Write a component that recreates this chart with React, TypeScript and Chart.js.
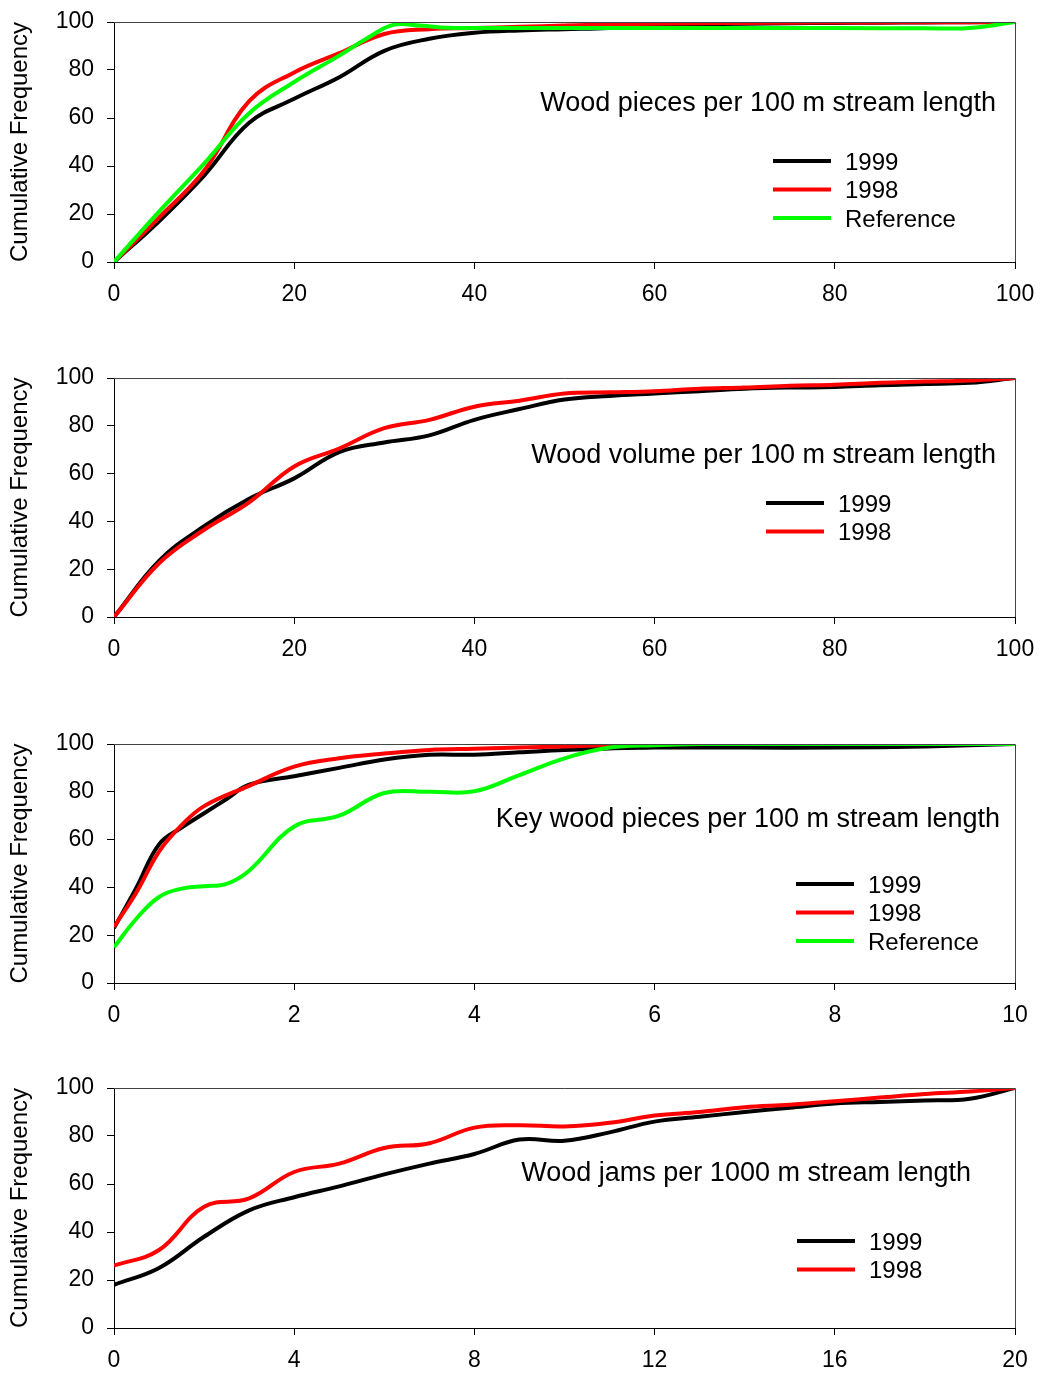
import React, { useEffect, useRef } from 'react';
import { Chart, registerables } from 'chart.js';
Chart.register(...registerables);

// ---------- data ----------
const yTickValues = [0, 20, 40, 60, 80, 100];
const legendLabels = ['1999', '1998', 'Reference'];

// Panel 1: Wood pieces per 100 m stream length
const p1X = [0, 5, 10, 15, 20, 25, 30, 35, 40, 45, 50, 55, 60, 65, 70, 75, 80, 85, 90, 95, 100];
const p1Y1999 = [0, 17, 36, 58, 68, 77, 88, 93, 95.5, 96.5, 97, 97.5, 98.5, 99, 99.3, 99.5, 99.6, 99.7, 99.8, 99.9, 100];
const p1Y1998 = [0, 18.5, 38, 67, 79, 87, 95, 97, 97.5, 98, 98.5, 99, 99.3, 99.5, 99.6, 99.7, 99.8, 99.8, 99.9, 99.9, 100];
const p1RefX = [0, 5, 10, 15, 20, 25, 28, 31, 34, 37, 40, 50, 60, 70, 80, 90, 95, 100];
const p1RefY = [0, 21, 41, 62, 75, 86, 93, 98.8, 98.5, 97.6, 97.5, 97.5, 97.5, 97.5, 97.5, 97.4, 97.5, 100];

// Panel 2: Wood volume per 100 m stream length
const p2X = [0, 5, 10, 15, 20, 25, 30, 35, 40, 45, 50, 55, 60, 65, 70, 75, 80, 85, 90, 95, 100];
const p2Y1999 = [0, 23.5, 38, 49.5, 58, 69, 73, 76, 82.5, 87, 91, 92.5, 93.5, 94.5, 95.5, 96, 96.2, 97, 97.5, 98, 100];
const p2Y1998 = [0, 22.5, 36.5, 48, 63, 70.5, 79, 82.5, 88, 90.5, 93.5, 94, 94.5, 95.5, 96, 96.8, 97.2, 98, 98.5, 99, 100];

// Panel 3: Key wood pieces per 100 m stream length
const p3X1999 = [0, 0.25, 0.5, 0.75, 1, 1.25, 1.5, 2, 2.5, 3, 3.5, 4, 4.5, 5, 6, 7, 8, 9, 10];
const p3Y1999 = [23, 40, 58, 65, 71, 77, 83, 86.5, 90, 93.5, 95.5, 95.5, 96.5, 97.5, 98.5, 98.5, 98.5, 99, 100];
const p3X1998 = [0, 0.25, 0.5, 0.75, 1, 1.5, 2, 2.5, 3, 3.5, 4, 5, 6, 7, 8, 9, 10];
const p3Y1998 = [23.5, 38, 55, 66, 74, 82.5, 90.5, 94, 96, 97.5, 98, 99, 100, 100, 100, 100, 100];
const p3RefX = [0, 0.25, 0.5, 0.75, 1, 1.25, 1.5, 2, 2.5, 3, 3.5, 4, 4.5, 5, 5.5, 6, 6.5, 7, 8, 9, 10];
const p3RefY = [15, 27, 36, 39.5, 40.5, 41.5, 47, 65.5, 70, 79.5, 80, 80.2, 87, 94, 98.5, 99.5, 100, 100, 100, 100, 100];

// Panel 4: Wood jams per 1000 m stream length
const p4X = [0, 1, 2, 3, 4, 5, 6, 7, 8, 9, 10, 11, 12, 13, 14, 15, 16, 17, 18, 19, 20];
const p4Y1999 = [18, 25, 38, 49, 54.5, 59, 64, 68.5, 72.5, 78.5, 78, 81.5, 86, 88, 90, 91.8, 93.5, 94.2, 94.8, 95.5, 100];
const p4Y1998 = [26, 32.5, 50.5, 54, 65, 68.5, 75, 77, 83.5, 84.5, 84, 85.5, 88.5, 90, 92, 93, 94.5, 96, 97.5, 98.5, 100];

const titles = [
  'Wood pieces per 100 m stream length',
  'Wood volume per 100 m stream length',
  'Key wood pieces per 100 m stream length',
  'Wood jams per 1000 m stream length',
];

const COLORS = { y1999: '#000000', y1998: '#ff0000', ref: '#00ff00' };
const FONT = '"Liberation Sans", Arial, sans-serif';

const pts = (xs: number[], ys: number[]) => xs.map((x, i) => ({ x, y: ys[i] }));

type Series = { label: string; color: string; data: { x: number; y: number }[] };
type Panel = {
  top: number; height: number; plotTop: number; plotBottom: number;
  xMax: number; xStep: number; title: string; titleRight: number; titleBase: number;
  legendX: number; legendY: number; series: Series[];
};

const panels: Panel[] = [
  {
    top: 0, height: 330, plotTop: 22, plotBottom: 262, xMax: 100, xStep: 20,
    title: titles[0], titleRight: 996, titleBase: 111, legendX: 773, legendY: 161,
    series: [
      { label: legendLabels[0], color: COLORS.y1999, data: pts(p1X, p1Y1999) },
      { label: legendLabels[1], color: COLORS.y1998, data: pts(p1X, p1Y1998) },
      { label: legendLabels[2], color: COLORS.ref, data: pts(p1RefX, p1RefY) },
    ],
  },
  {
    top: 330, height: 360, plotTop: 378, plotBottom: 617, xMax: 100, xStep: 20,
    title: titles[1], titleRight: 996, titleBase: 463, legendX: 766, legendY: 503,
    series: [
      { label: legendLabels[0], color: COLORS.y1999, data: pts(p2X, p2Y1999) },
      { label: legendLabels[1], color: COLORS.y1998, data: pts(p2X, p2Y1998) },
    ],
  },
  {
    top: 690, height: 345, plotTop: 744, plotBottom: 983, xMax: 10, xStep: 2,
    title: titles[2], titleRight: 1000, titleBase: 827, legendX: 796, legendY: 884,
    series: [
      { label: legendLabels[0], color: COLORS.y1999, data: pts(p3X1999, p3Y1999) },
      { label: legendLabels[1], color: COLORS.y1998, data: pts(p3X1998, p3Y1998) },
      { label: legendLabels[2], color: COLORS.ref, data: pts(p3RefX, p3RefY) },
    ],
  },
  {
    top: 1035, height: 339, plotTop: 1088, plotBottom: 1328, xMax: 20, xStep: 4,
    title: titles[3], titleRight: 971, titleBase: 1181, legendX: 797, legendY: 1241,
    series: [
      { label: legendLabels[0], color: COLORS.y1999, data: pts(p4X, p4Y1999) },
      { label: legendLabels[1], color: COLORS.y1998, data: pts(p4X, p4Y1998) },
    ],
  },
];

const WIDTH = 1041;
const PLOT_LEFT = 114;
const PLOT_RIGHT = 1015;

function PanelChart({ p }: { p: Panel }) {
  const ref = useRef<HTMLCanvasElement | null>(null);
  useEffect(() => {
    if (!ref.current) return;
    const plotTopRel = p.plotTop - p.top;
    const plotBottomRel = p.plotBottom - p.top;
    const decor = {
      id: 'decor' + p.top,
      afterDraw(chart: any) {
        const ctx = chart.ctx;
        const a = chart.chartArea;
        ctx.save();
        ctx.strokeStyle = '#444';
        ctx.lineWidth = 1;
        ctx.beginPath();
        ctx.moveTo(a.left, a.top + 0.5);
        ctx.lineTo(a.right + 0.5, a.top + 0.5);
        ctx.lineTo(a.right + 0.5, a.bottom);
        ctx.stroke();
        // title
        ctx.fillStyle = '#000';
        ctx.font = `27px ${FONT}`;
        ctx.textAlign = 'right';
        ctx.textBaseline = 'alphabetic';
        ctx.fillText(p.title, p.titleRight, p.titleBase - p.top);
        // legend
        ctx.font = `24px ${FONT}`;
        ctx.textAlign = 'left';
        p.series.forEach((s, i) => {
          const y = p.legendY - p.top + i * 28.5;
          ctx.strokeStyle = s.color;
          ctx.lineWidth = 4;
          ctx.beginPath();
          ctx.moveTo(p.legendX, y);
          ctx.lineTo(p.legendX + 58, y);
          ctx.stroke();
          ctx.fillStyle = '#000';
          ctx.fillText(s.label, p.legendX + 72, y + 8.5);
        });
        ctx.restore();
      },
    };
    const chart = new Chart(ref.current, {
      type: 'line',
      data: {
        datasets: p.series.map((s, i) => ({
          label: s.label,
          data: s.data,
          borderColor: s.color,
          backgroundColor: s.color,
          borderWidth: 4,
          pointRadius: 0,
          tension: 0.4,
          fill: false,
          order: p.series.length - i,
        })),
      },
      options: {
        animation: false,
        responsive: false,
        maintainAspectRatio: false,
        layout: { padding: { top: plotTopRel, right: WIDTH - PLOT_RIGHT, left: 0, bottom: 0 } },
        plugins: { legend: { display: false }, tooltip: { enabled: false }, title: { display: false } },
        scales: {
          x: {
            type: 'linear',
            min: 0,
            max: p.xMax,
            afterFit: (scale: any) => {
              scale.height = p.height - plotBottomRel;
              scale.paddingLeft = 0;
              scale.paddingRight = 0;
            },
            ticks: {
              stepSize: p.xStep,
              color: '#000',
              font: { family: FONT, size: 23 },
              padding: 12,
              maxRotation: 0,
              callback: (v: any) => String(v),
            },
            grid: { display: true, drawOnChartArea: false, drawTicks: true, tickLength: 7, color: '#000' },
            border: { display: true, color: '#000', width: 1 },
          },
          y: {
            type: 'linear',
            min: 0,
            max: 100,
            afterFit: (scale: any) => {
              scale.width = PLOT_LEFT;
              scale.paddingTop = 0;
              scale.paddingBottom = 0;
            },
            afterBuildTicks: (scale: any) => { scale.ticks = yTickValues.map((v) => ({ value: v })); },
            ticks: {
              color: '#000',
              font: { family: FONT, size: 23 },
              padding: 13,
            },
            grid: { display: true, drawOnChartArea: false, drawTicks: true, tickLength: 7, color: '#000' },
            border: { display: true, color: '#000', width: 1 },
            title: {
              display: true,
              text: 'Cumulative Frequency',
              color: '#000',
              font: { family: FONT, size: 24 },
              padding: { top: 6, bottom: 0 },
            },
          },
        },
      },
      plugins: [decor],
    } as any);
    return () => chart.destroy();
  }, [p]);
  return (
    <canvas
      ref={ref}
      width={WIDTH}
      height={p.height}
      style={{ position: 'absolute', left: 0, top: p.top, width: WIDTH, height: p.height, display: 'block' }}
    />
  );
}

export default function App() {
  return (
    <div style={{ position: 'absolute', left: 0, top: 0, width: WIDTH, height: 1374, background: '#fff' }}>
      {panels.map((p) => (
        <PanelChart key={p.top} p={p} />
      ))}
    </div>
  );
}
